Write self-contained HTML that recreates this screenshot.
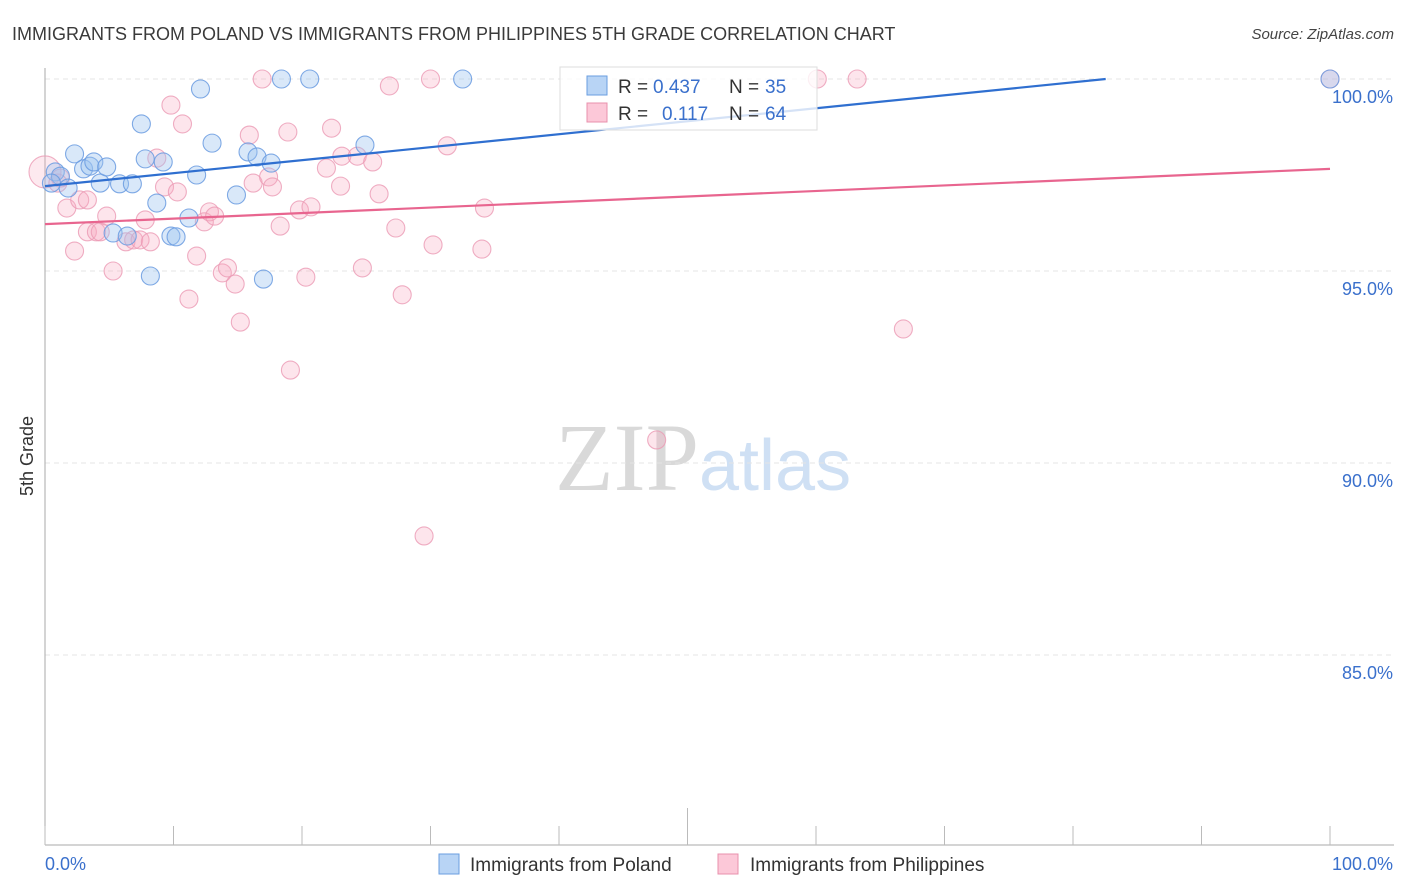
<!DOCTYPE html>
<html><head><meta charset="utf-8">
<style>
body{margin:0;background:#fff;font-family:"Liberation Sans",sans-serif;}
svg{display:block}
</style></head>
<body>
<svg id="chart" width="1406" height="892" viewBox="0 0 1406 892" xmlns="http://www.w3.org/2000/svg">
<text x="12" y="40" font-size="18" fill="#3a3a3a" font-family="Liberation Sans, sans-serif">IMMIGRANTS FROM POLAND VS IMMIGRANTS FROM PHILIPPINES 5TH GRADE CORRELATION CHART</text>
<text x="1394" y="39" font-size="15" fill="#444" text-anchor="end" font-style="italic">Source: ZipAtlas.com</text>
<text x="555" y="490" font-size="96" font-family="Liberation Serif, serif"><tspan fill="#d9d9d9">ZIP</tspan><tspan fill="#cfe0f4" font-family="Liberation Sans, sans-serif" font-size="72">atlas</tspan></text>
<text transform="translate(33,456) rotate(-90)" font-size="18" fill="#333" text-anchor="middle">5th Grade</text>
<g id="grid"></g>
<g id="axes"></g>
<g id="marks"></g>
<g id="lines"></g>
<g>
<rect x="560" y="67" width="257" height="63" fill="#fff" fill-opacity="0.8" stroke="#ddd"/>
<rect x="587" y="76" width="20" height="19" fill="#b8d4f5" stroke="#6a9ee0"/>
<rect x="587" y="103" width="20" height="19" fill="#fcc8d8" stroke="#e890ac"/>
<text x="618" y="93" font-size="19" fill="#333">R =</text>
<text x="653" y="93" font-size="19" fill="#3a70cc">0.437</text>
<text x="729" y="93" font-size="19" fill="#333">N =</text>
<text x="765" y="93" font-size="19" fill="#3a70cc">35</text>
<text x="618" y="120" font-size="19" fill="#333">R =</text>
<text x="662" y="120" font-size="19" fill="#3a70cc">0.117</text>
<text x="729" y="120" font-size="19" fill="#333">N =</text>
<text x="765" y="120" font-size="19" fill="#3a70cc">64</text>
</g>
<g>
<rect x="439" y="854" width="20" height="20" fill="#b8d4f5" stroke="#6a9ee0"/>
<text x="470" y="871" font-size="19" fill="#333">Immigrants from Poland</text>
<rect x="718" y="854" width="20" height="20" fill="#fcc8d8" stroke="#e890ac"/>
<text x="750" y="871" font-size="19" fill="#333">Immigrants from Philippines</text>
</g>
</svg>
<script>
const polandX=[0.8,1.2,0.5,2.3,3.0,3.5,3.8,4.3,4.8,5.8,6.8,7.5,7.8,8.2,8.7,9.2,9.8,10.2,11.2,11.8,12.1,13.0,14.9,15.8,16.5,17.0,17.6,18.4,20.6,24.9,32.5,100,5.3,6.4,1.8];
const polandY=[97.58,97.47,97.29,98.05,97.66,97.73,97.84,97.29,97.71,97.27,97.27,98.83,97.92,94.87,96.77,97.84,95.91,95.89,96.38,97.50,99.74,98.33,96.98,98.10,97.97,94.79,97.81,100,100,98.28,100,100,95.99,95.91,97.16];
const philX=[0,1.2,1.7,2.3,2.7,3.3,4.0,4.3,4.8,5.3,6.3,6.9,7.4,7.8,8.2,8.7,9.3,9.8,10.3,10.7,11.2,11.8,12.4,12.8,13.2,13.8,14.2,14.8,15.2,15.9,16.2,16.9,17.4,17.7,18.3,18.9,19.1,19.8,20.3,20.7,21.9,22.3,23.0,23.1,24.3,24.7,25.5,26.0,26.8,27.3,27.8,29.5,30.0,30.2,31.3,34.0,34.2,47.6,60.1,63.2,66.8,100,1.0,3.3];
const philY=[97.58,97.42,96.64,95.52,96.85,96.02,96.02,96.02,96.43,95.0,95.76,95.81,95.81,96.33,95.76,97.94,97.19,99.32,97.06,98.83,94.27,95.39,96.28,96.54,96.43,94.95,95.08,94.66,93.67,98.54,97.29,100,97.45,97.19,96.17,98.62,92.42,96.59,94.84,96.67,97.68,98.72,97.21,97.99,97.99,95.08,97.84,97.01,99.82,96.12,94.38,88.10,100,95.68,98.26,95.57,96.64,90.60,100,100,93.49,100,97.29,96.85];
const yTicks=[100,95,90,85];
const yTickLabels=["100.0%","95.0%","90.0%","85.0%"];
const xTicks=[0,10,20,30,40,50,60,70,80,90,100];
const polandTrend=[97.21,100.59];
const philTrend=[96.22,97.66];
const NS="http://www.w3.org/2000/svg";
const sx=v=>45+v*12.85;
const sy=v=>79+(100-v)*38.4;
function mk(tag,attrs,parent){const e=document.createElementNS(NS,tag);for(const k in attrs)e.setAttribute(k,attrs[k]);parent.appendChild(e);return e;}
const grid=document.getElementById('grid'),axes=document.getElementById('axes'),marks=document.getElementById('marks'),lines=document.getElementById('lines');
yTicks.forEach((t,i)=>{
 const g=mk('line',{x1:45,x2:1394,y1:sy(t),y2:sy(t),stroke:'#e4e4e4','stroke-dasharray':'5,4'},grid);
 
 
 const tx=mk('text',{x:1393,y:sy(t)+24,'font-size':18,fill:'#3a70cc','text-anchor':'end'},axes);
 tx.textContent=yTickLabels[i];
 
 
});
const ya=mk('line',{x1:45,x2:45,y1:68,y2:845,stroke:'#aaa'},axes);


const xa=mk('line',{x1:45,x2:1394,y1:845,y2:845,stroke:'#aaa'},axes);


xTicks.forEach(t=>{
 const l=mk('line',{x1:sx(t),x2:sx(t),y1:t===50?808:826,y2:845,stroke:'#bbb'},axes);
 
 
});
const x0=mk('text',{x:45,y:870,'font-size':18,fill:'#3a70cc'},axes);x0.textContent='0.0%';


const x1=mk('text',{x:1393,y:870,'font-size':18,fill:'#3a70cc','text-anchor':'end'},axes);x1.textContent='100.0%';


philX.forEach((x,i)=>{
 const c=mk('circle',{cx:sx(x),cy:sy(philY[i]),r:i===0?16:9,fill:'#f7a8c0','fill-opacity':i===0?0.25:0.3,stroke:'#eb9ab4','stroke-opacity':0.8,'stroke-width':1.1},marks);
 
 
});
polandX.forEach((x,i)=>{
 const c=mk('circle',{cx:sx(x),cy:sy(polandY[i]),r:9,fill:'#9cc2ee','fill-opacity':0.38,stroke:'#6a9be0','stroke-opacity':0.85,'stroke-width':1.1},marks);
 
 
});
const pxEnd=(100-polandTrend[0])/(polandTrend[1]-polandTrend[0])*100;
const bl=mk('line',{x1:sx(0),y1:sy(polandTrend[0]),x2:sx(Math.min(100,pxEnd)),y2:sy(Math.min(100,polandTrend[1])),stroke:'#2f6fd0','stroke-width':2.2},lines);


const pl=mk('line',{x1:sx(0),y1:sy(philTrend[0]),x2:sx(100),y2:sy(philTrend[1]),stroke:'#e8658f','stroke-width':2.2},lines);


</script>
</body></html>
